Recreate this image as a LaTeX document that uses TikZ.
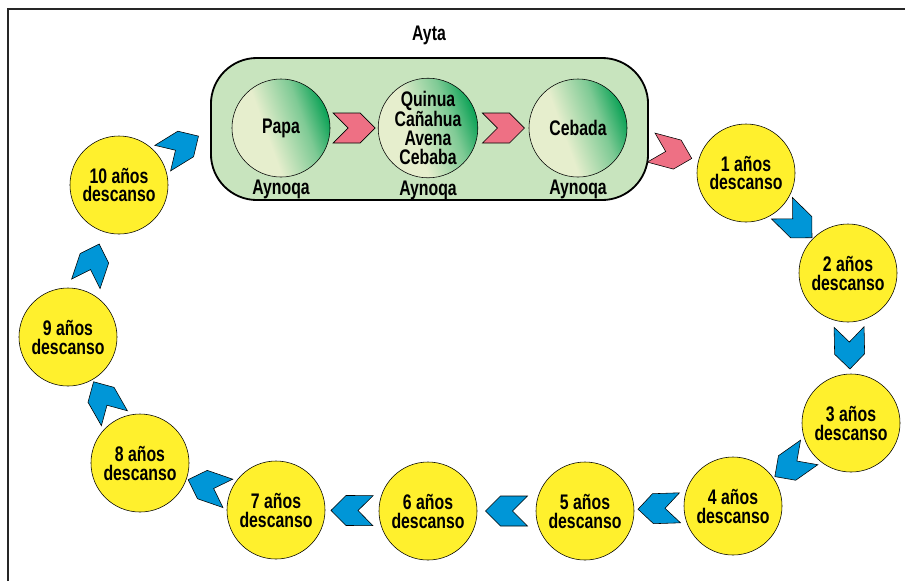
\documentclass[tikz,border=0pt]{standalone}
\usepackage{fontspec}
\setmainfont{Liberation Sans}[FakeStretch=0.75]
\usetikzlibrary{shapes.symbols,positioning}

\definecolor{boxgreen}{RGB}{200,228,190}
\definecolor{pale}{RGB}{230,238,205}
\definecolor{leaf}{RGB}{0,158,80}
\definecolor{sun}{RGB}{255,240,45}
\definecolor{rose}{RGB}{238,112,132}
\definecolor{sky}{RGB}{0,150,215}
\pgfdeclarehorizontalshading{leafshade}{100bp}{color(0bp)=(pale); color(42bp)=(pale); color(62bp)=(pale!55!leaf); color(76bp)=(leaf); color(100bp)=(leaf)}

\begin{document}
\begin{tikzpicture}[x=0.025cm, y=-0.025cm,
    every node/.style={font=\fontsize{15}{13.5}\selectfont\bfseries, align=center},
    crop/.style={circle, draw, thin, shade, shading=leafshade, shading angle=20, minimum size=2.45cm, inner sep=0pt},
    fallow/.style={circle, draw, thin, fill=sun, minimum size=2.45cm, inner sep=0pt},
    chev/.style={signal, signal from=west, signal to=east, draw, thin, fill=#1, minimum width=1.05cm, minimum height=0.75cm, inner sep=0pt, sloped, allow upside down}
]
    \useasboundingbox (0,0) rectangle (905,581);

    % Frame
    \draw[line width=1.3pt, black!85] (8,581) -- (8,9) -- (905,9);

    % Ayta
    \node[draw, line width=1.3pt, fill=boxgreen, rounded corners=1.15cm, minimum width=10.925cm, minimum height=3.55cm] (ayta) at (429.5,129) {};
    \node (aytatitle) at (429,35) {Ayta};

    % Crops
    \node[crop] (papa) at (281,128) {Papa};
    \node[crop] (quinua) at (428,128) {Quinua\\Cañahua\\Avena\\Cebaba};
    \node[crop] (cebada) at (578,128) {Cebada};
    \node[anchor=north, inner sep=2pt] (papaaynoqa) at (papa.south) {Aynoqa};
    \node[anchor=north, inner sep=2pt] (quinuaaynoqa) at (quinua.south) {Aynoqa};
    \node[anchor=north, inner sep=2pt] (cebadaaynoqa) at (cebada.south) {Aynoqa};

    % Rest years
    \node[fallow] (y1) at (746,173) {1 años\\descanso};
    \node[fallow] (y2) at (848,273) {2 años\\descanso};
    \node[fallow] (y3) at (851,423) {3 años\\descanso};
    \node[fallow] (y4) at (733,506) {4 años\\descanso};
    \node[fallow] (y5) at (585,511) {5 años\\descanso};
    \node[fallow] (y6) at (428,511) {6 años\\descanso};
    \node[fallow] (y7) at (276,510) {7 años\\descanso};
    \node[fallow] (y8) at (140,463) {8 años\\descanso};
    \node[fallow] (y9) at (68,337) {9 años\\descanso};
    \node[fallow] (y10) at (119,185) {10 años\\descanso};

    % Chevrons
    \path (papa) -- node[chev=rose] (c1) {} (quinua);
    \path (quinua) -- node[chev=rose] (c2) {} (cebada);
    \path (cebada) -- node[chev=rose, pos=0.63] (c3) {} (y1);
    \path (y1) -- node[chev=sky] (c4) {} (y2);
    \path (y2) -- node[chev=sky] (c5) {} (y3);
    \path (y3) -- node[chev=sky] (c6) {} (y4);
    \path (y4) -- node[chev=sky] (c7) {} (y5);
    \path (y5) -- node[chev=sky] (c8) {} (y6);
    \path (y6) -- node[chev=sky] (c9) {} (y7);
    \path (y7) -- node[chev=sky] (c10) {} (y8);
    \path (y8) -- node[chev=sky] (c11) {} (y9);
    \path (y9) -- node[chev=sky, pos=0.45] (c12) {} (y10);
    \path (y10) -- node[chev=sky, pos=0.4] (c13) {} (ayta.west);
\end{tikzpicture}
\end{document}
